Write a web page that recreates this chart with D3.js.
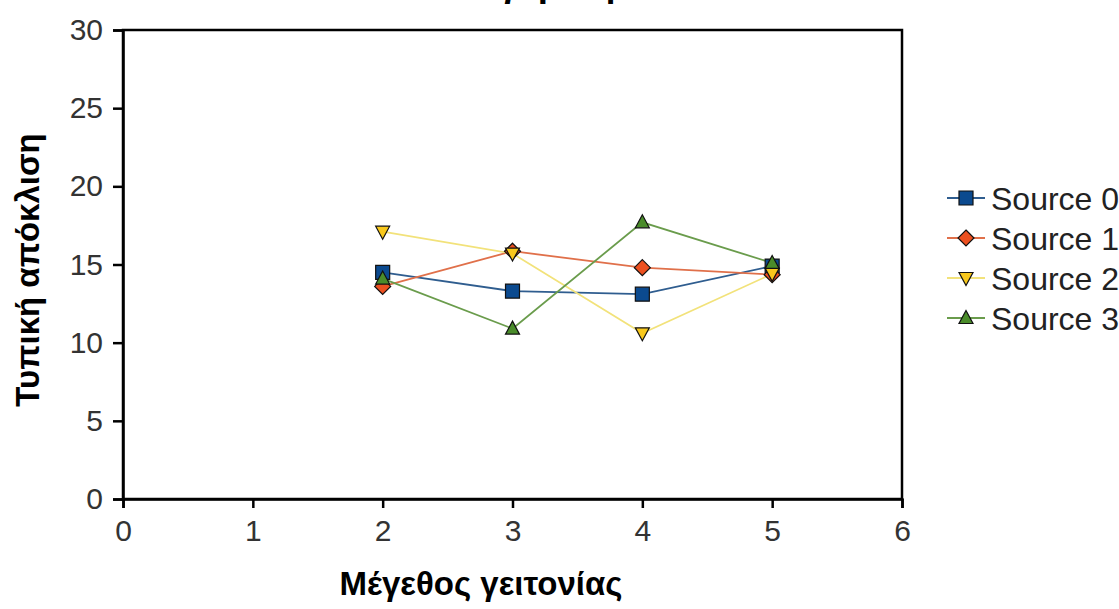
<!DOCTYPE html>
<html>
<head>
<meta charset="utf-8">
<script src="https://cdn.jsdelivr.net/npm/d3@7"></script>
<style>
  html, body { margin: 0; padding: 0; background: #fff; }
  svg { display: block; font-family: "Liberation Sans", Arial, sans-serif; }
</style>
</head>
<body>
<svg id="chart" width="1119" height="609"></svg>
<script>
// Neighbourhood sizes on the x axis
const neighbourhood = [2, 3, 4, 5];

// Standard deviation per source
const source0 = [14.5, 13.3, 13.1, 14.9];
const source1 = [13.6, 15.85, 14.8, 14.35];
const source2 = [17.1, 15.7, 10.6, 14.4];
const source3 = [14.1, 10.9, 17.7, 15.1];

const seriesNames = ["Source 0", "Source 1", "Source 2", "Source 3"];
const xTicks = [0, 1, 2, 3, 4, 5, 6];
const yTicks = [0, 5, 10, 15, 20, 25, 30];

const titleText = "Σύγκριση";
const xTitle = "Μέγεθος γειτονίας";
const yTitle = "Τυπική απόκλιση";

const series = [
  { name: seriesNames[0], values: source0, line: "#2f5d8f", fill: "#0b4a8f", shape: "square" },
  { name: seriesNames[1], values: source1, line: "#e0704a", fill: "#ec5020", shape: "diamond" },
  { name: seriesNames[2], values: source2, line: "#f2e27a", fill: "#f8c81c", shape: "down" },
  { name: seriesNames[3], values: source3, line: "#6a9c4c", fill: "#4a8c2a", shape: "up" }
];

const svg = d3.select("#chart");
const plot = { left: 123, right: 902, top: 30, bottom: 499 };

const x = d3.scaleLinear().domain([0, 6]).range([plot.left, plot.right]);
const y = d3.scaleLinear().domain([0, 30]).range([plot.bottom, plot.top]);

// Chart title, mostly above the top edge
svg.append("text")
  .attr("x", 458).attr("y", -3)
  .attr("text-anchor", "start")
  .attr("font-size", 35).attr("font-weight", "bold")
  .text(titleText);

// Frame around the plot area
svg.append("rect")
  .attr("x", plot.left).attr("y", plot.top)
  .attr("width", plot.right - plot.left).attr("height", plot.bottom - plot.top)
  .attr("fill", "none").attr("stroke", "#000").attr("stroke-width", 2.5);

// Axes
const xAxis = d3.axisBottom(x).tickValues(xTicks).tickSize(9).tickPadding(12).tickFormat(d3.format("d"));
const yAxis = d3.axisLeft(y).tickValues(yTicks).tickSize(10).tickPadding(10).tickFormat(d3.format("d"));

const gx = svg.append("g").attr("transform", `translate(0,${plot.bottom})`).call(xAxis);
const gy = svg.append("g").attr("transform", `translate(${plot.left},0)`).call(yAxis);

[gx, gy].forEach(g => {
  g.select(".domain").attr("stroke", "#000").attr("stroke-width", 2.5);
  g.selectAll(".tick line").attr("stroke", "#000").attr("stroke-width", 2.5);
  g.selectAll(".tick text").attr("font-size", 30).attr("fill", "#333")
    .attr("font-family", "'Liberation Sans', Arial, sans-serif");
});

// Axis titles
svg.append("text")
  .attr("x", 481).attr("y", 595)
  .attr("text-anchor", "middle")
  .attr("font-size", 33).attr("font-weight", "bold")
  .text(xTitle);

svg.append("text")
  .attr("transform", `translate(39,270) rotate(-90)`)
  .attr("text-anchor", "middle")
  .attr("font-size", 33).attr("font-weight", "bold")
  .text(yTitle);

// Marker shapes
function markerPath(shape) {
  switch (shape) {
    case "square": return "M-7,-7H7V7H-7Z";
    case "diamond": return "M0,-8L8,0L0,8L-8,0Z";
    case "down": return "M-7,-5.5H7L0,7.5Z";
    case "up": return "M0,-7.5L7,5.5H-7Z";
  }
}

const line = d3.line()
  .x((d, i) => x(neighbourhood[i]))
  .y(d => y(d));

series.forEach(s => {
  svg.append("path")
    .datum(s.values)
    .attr("d", line)
    .attr("fill", "none")
    .attr("stroke", s.line)
    .attr("stroke-width", 1.8);
});

series.forEach(s => {
  svg.append("g").selectAll("path")
    .data(s.values)
    .join("path")
    .attr("transform", (d, i) => `translate(${x(neighbourhood[i])},${y(d)})`)
    .attr("d", markerPath(s.shape))
    .attr("fill", s.fill)
    .attr("stroke", "#111")
    .attr("stroke-width", 1.2);
});

// Legend
const legend = svg.append("g").attr("transform", "translate(947,198)");
series.forEach((s, i) => {
  const g = legend.append("g").attr("transform", `translate(0,${i * 40})`);
  g.append("line").attr("x1", 0).attr("x2", 38).attr("y1", 0).attr("y2", 0)
    .attr("stroke", s.line).attr("stroke-width", 1.8);
  g.append("path").attr("transform", "translate(19,0)")
    .attr("d", markerPath(s.shape))
    .attr("fill", s.fill).attr("stroke", "#111").attr("stroke-width", 1.2);
  g.append("text").attr("x", 44).attr("y", 0).attr("dy", "0.36em")
    .attr("font-size", 32).attr("fill", "#222")
    .text(s.name);
});
</script>
</body>
</html>
